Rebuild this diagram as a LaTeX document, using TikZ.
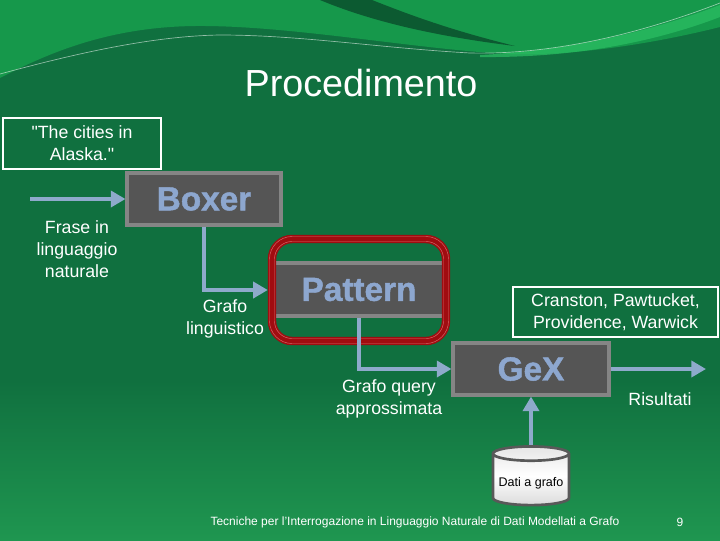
\documentclass[tikz,border=0pt]{standalone}
\usepackage{fontspec}
\setmainfont{Liberation Sans}
\newfontfamily\heavyfont{Liberation Sans Bold}[FakeBold=1.3]
\usetikzlibrary{arrows.meta,shapes.geometric,calc}
\definecolor{bgdark}{HTML}{10703F}
\definecolor{bglight}{HTML}{16984B}
\definecolor{bgbottom}{HTML}{1F9650}
\definecolor{streak}{HTML}{0C5A31}
\definecolor{highlight}{HTML}{2CC164}
\definecolor{arrowblue}{HTML}{8EAACB}
\definecolor{boxgrey}{HTML}{555555}
\definecolor{boxborder}{HTML}{858585}
\definecolor{progtext}{HTML}{8DA7CF}
\definecolor{framered}{HTML}{A00C10}
\definecolor{framepink}{HTML}{D86A6A}
\definecolor{dbborder}{HTML}{595959}
\tikzset{
  lbl/.style={text=white, font=\fontsize{13.3}{16.5}\selectfont, align=center, inner sep=0pt},
  wbox/.style={draw=white, line width=0.9pt, text=white, font=\fontsize{13.3}{16.5}\selectfont, align=center, inner sep=0pt},
  prog/.style={draw=boxborder, line width=2.3pt, fill=boxgrey, text=progtext, font=\fontsize{25}{25}\selectfont\heavyfont, inner sep=0pt},
  redframe/.style={draw=framered, line width=6.3pt, rounded corners=15pt, inner sep=0pt},
  flow/.style={draw=arrowblue, line width=3pt, -{Triangle[length=11pt,width=12pt]}},
}
\begin{document}
\begin{tikzpicture}[x=0.75pt,y=-0.75pt]
\useasboundingbox (0,0) rectangle (720,540);
% background
\fill[bgdark] (0,0) rectangle (720,540);
\shade[top color=bgdark, bottom color=bgbottom] (0,380) rectangle (720,540);
\fill[bglight] (0,0) -- (0,78) .. controls (50,52) and (110,27) .. (195,26)
  .. controls (290,25) and (420,50) .. (510,54) .. controls (580,56) and (660,42) .. (720,27) -- (720,0) -- cycle;
\fill[streak] (320,0) .. controls (380,25) and (450,38) .. (515,46) .. controls (450,30) and (410,15) .. (372,0) -- cycle;
\fill[highlight, opacity=0.7] (480,55) .. controls (580,50) and (660,28) .. (720,5) -- (720,17) .. controls (660,40) and (580,58) .. (480,57) -- cycle;
\draw[white, opacity=0.55, line width=0.5pt] (0,74) .. controls (70,55) and (150,36) .. (220,35) .. controls (300,35) and (380,48) .. (470,53) .. controls (560,55) and (650,30) .. (720,3);

% title
\node[text=white, font=\fontsize{28.3}{30}\selectfont, inner sep=0pt] (title) at (361,83) {Procedimento};

% boxes
\node[wbox, minimum width=118.5pt, minimum height=38.25pt] (alaska) at (82,143.5) {\textquotedbl The cities in\\Alaska.\textquotedbl};
\node[prog, minimum width=115.5pt, minimum height=39pt] (boxer) at (204,199) {Boxer};
\node[prog, minimum width=130.5pt, minimum height=39.75pt] (pattern) at (359,289.5) {Pattern};
\node[redframe, minimum width=130.5pt, minimum height=76.5pt] (frame) at (359,290) {};
\draw[framepink, line width=0.35pt, rounded corners=17pt] ($(frame.center)+(-89.5,-53.5)$) rectangle ($(frame.center)+(89.5,53.5)$);
\draw[framepink, line width=0.35pt, rounded corners=13pt] ($(frame.center)+(-84.5,-48.5)$) rectangle ($(frame.center)+(84.5,48.5)$);
\node[prog, minimum width=117pt, minimum height=39pt] (gex) at (531,369) {GeX};
\node[wbox, minimum width=153.75pt, minimum height=37.5pt] (cities) at (615.5,312) {Cranston, Pawtucket,\\Providence, Warwick};
\node[cylinder, shape border rotate=90, aspect=0.22, draw=dbborder, line width=2pt,
      minimum width=57pt, minimum height=44pt, top color=white!80!gray, bottom color=white!72!gray, middle color=white,
      text=black, font=\fontsize{9.4}{11}\selectfont, inner sep=0pt] (db) at (531,480) {\raisebox{-11pt}{Dati a grafo}};

% labels
\node[lbl] (frase) at (77,249) {Frase in\\linguaggio\\naturale};
\node[lbl] (glin) at (225,318.5) {Grafo\\linguistico};
\node[lbl] (gq) at (389,399) {Grafo query\\approssimata};
\node[lbl] (ris) at (660,399) {Risultati};

% connectors
\coordinate (start) at (30,199);
\coordinate (finish) at (706,369);
\draw[flow] (start) -- (boxer.west);
\draw[flow] (boxer.south) |- (frame.west);
\draw[flow] (pattern.south) |- (gex.west);
\draw[flow] (gex.east) -- (finish);
\draw[flow] (db.top) -- (gex.south);

% footer
\node[text=white, font=\fontsize{9}{11}\selectfont, inner sep=0pt] (footer) at (415,522) {Tecniche per l'Interrogazione in Linguaggio Naturale di Dati Modellati a Grafo};
\node[text=white, font=\fontsize{9}{11}\selectfont, inner sep=0pt] (pagenum) at (680,522) {9};
\end{tikzpicture}
\end{document}
